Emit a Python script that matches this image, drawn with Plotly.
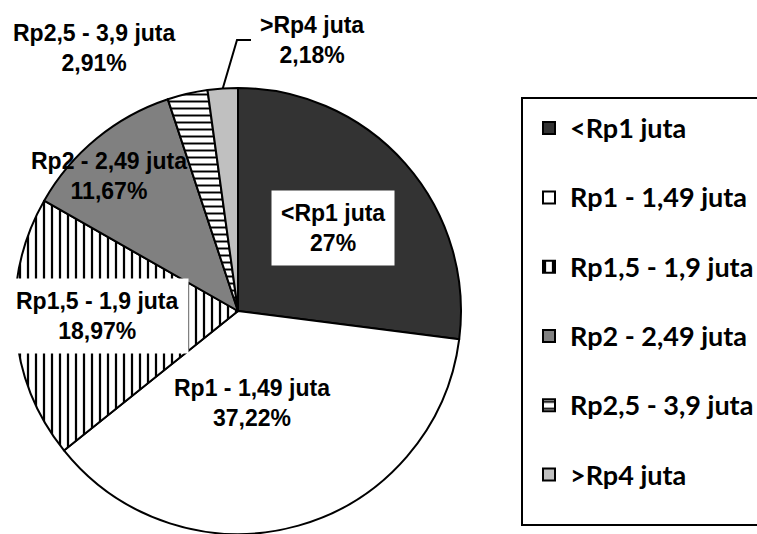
import math
import plotly.graph_objects as go

# Income brackets and their shares (%)
labels = ["&lt;Rp1 juta", "Rp1 - 1,49 juta", "Rp1,5 - 1,9 juta",
          "Rp2 - 2,49 juta", "Rp2,5 - 3,9 juta", "&gt;Rp4 juta"]
shares = [27, 37.22, 18.97, 11.67, 2.91, 2.18]

# Slice styling
fill_colors = ["#333333", "#ffffff", "#ffffff", "#808080", "#ffffff", "#c0c0c0"]
pattern_shapes = ["", "", "|", "", "-", ""]
pattern_sizes = [8, 8, 8, 8, 7, 8]

# Canvas and pie geometry (pixels)
W, H = 757, 534
CX, CY, R = 238, 311, 223
TOP = CY - R
BOTTOM = H - (CY + R)

# Label anchors (pixel centres) and whether the label sits on a white box
label_anchor = [(333, 228), (252, 403), (97, 316), (109, 176), (94, 48), (312, 40)]
label_box = [True, False, True, False, False, False]


def px_to_paper(px, py):
    return px / W, (H - BOTTOM - py) / (H - BOTTOM - TOP)


def pct_text(v):
    s = f"{v:.2f}".rstrip("0").rstrip(".")
    return s.replace(".", ",") + "%"


# Legend entries: larger glyphs on the first line, a blank second line
# to space the entries out
legend_names = [f'<span style="font-size:27px">{l}</span><br>\u00a0' for l in labels]

fig = go.Figure(
    go.Pie(
        labels=legend_names,
        values=shares,
        customdata=labels,
        sort=False,
        direction="clockwise",
        rotation=0,
        textinfo="none",
        hovertemplate="%{customdata}: %{value}%<extra></extra>",
        marker=dict(
            colors=fill_colors,
            line=dict(color="black", width=2),
            pattern=dict(shape=pattern_shapes, fgcolor="black",
                         bgcolor=fill_colors, size=pattern_sizes, solidity=0.28),
        ),
        domain=dict(x=[(CX - R) / W, (CX + R) / W], y=[0, 1]),
    )
)

annotations = []
for name, v, (ax, ay), boxed in zip(labels, shares, label_anchor, label_box):
    x, y = px_to_paper(ax, ay)
    annotations.append(dict(
        x=x, y=y, xref="paper", yref="paper", showarrow=False,
        xanchor="center", yanchor="middle",
        text=f"{name}<br>{pct_text(v)}",
        font=dict(family="Liberation Sans, Arial", size=23, color="black", weight="bold"),
        bgcolor="white" if boxed else "rgba(0,0,0,0)",
        borderpad=9 if boxed else 0,
        align="center",
    ))

# Leader line from the smallest slice's outer arc to its label
before = sum(shares[:-1])
mid = (before + shares[-1] / 2) / sum(shares) * 2 * math.pi
ex, ey = CX + R * math.sin(mid), CY - R * math.cos(mid)
pts = [(251, 40), (237, 40), (ex, ey)]
path = " ".join(("M" if i == 0 else "L") + "{:.5f},{:.5f}".format(*px_to_paper(*p))
                for i, p in enumerate(pts))

# Legend frame (runs past the right edge of the page)
bx0, by0 = px_to_paper(522, 98)
bx1, by1 = px_to_paper(800, 525)

fig.update_layout(
    width=W, height=H,
    margin=dict(l=0, r=0, t=TOP, b=BOTTOM, autoexpand=False),
    paper_bgcolor="white", plot_bgcolor="white",
    annotations=annotations,
    shapes=[
        dict(type="path", path=path, xref="paper", yref="paper",
             line=dict(color="black", width=2)),
        dict(type="rect", x0=bx0, y0=by0, x1=bx1, y1=by1, xref="paper", yref="paper",
             line=dict(color="black", width=2), fillcolor="rgba(0,0,0,0)"),
    ],
    showlegend=True,
    legend=dict(
        x=528 / W, xanchor="left", y=px_to_paper(0, 105)[1], yanchor="top",
        bgcolor="rgba(0,0,0,0)", borderwidth=0,
        font=dict(family="Lato", size=25.5, color="black", weight="bold"),
        valign="top", itemwidth=32, traceorder="normal",
    ),
)

fig.write_html("out.html")
